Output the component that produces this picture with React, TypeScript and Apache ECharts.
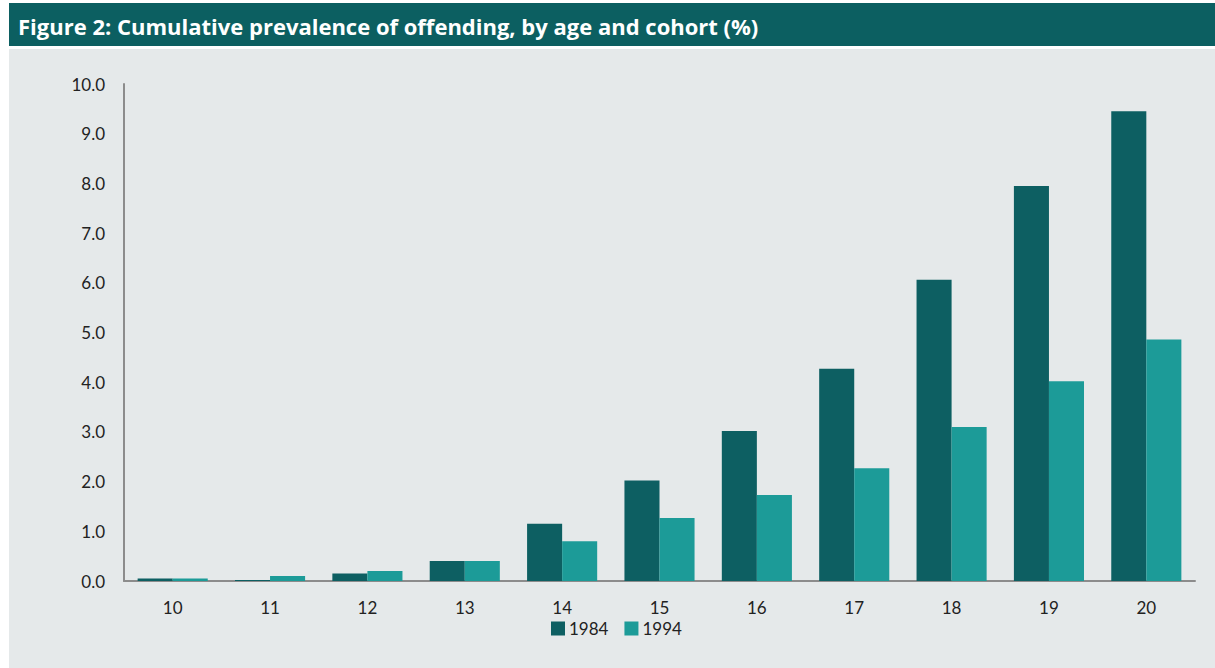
import React, { useEffect, useRef } from "react";
import * as echarts from "echarts";

const title = "Figure 2: Cumulative prevalence of offending, by age and cohort (%)";
const ages = ["10", "11", "12", "13", "14", "15", "16", "17", "18", "19", "20"];
const cohort1984 = [0.05, 0.02, 0.15, 0.4, 1.15, 2.02, 3.02, 4.27, 6.06, 7.95, 9.45];
const cohort1994 = [0.05, 0.1, 0.2, 0.4, 0.8, 1.27, 1.73, 2.27, 3.1, 4.02, 4.86];
const seriesNames = ["1984", "1994"];

const DARK = "#0D5F62";
const LIGHT = "#1C9B98";
const FONT = "Lato, 'Open Sans', sans-serif";

export default function App() {
  const ref = useRef<HTMLDivElement>(null);
  useEffect(() => {
    if (!ref.current) return;
    const chart = echarts.init(ref.current, null, { renderer: "svg" });
    chart.setOption({
      animation: false,
      backgroundColor: "#ffffff",
      graphic: [
        { type: "rect", z: -10, shape: { x: 9, y: 3, width: 1206, height: 43 }, style: { fill: "#0C5F61" } },
        { type: "rect", z: -10, shape: { x: 9, y: 49, width: 1206, height: 619 }, style: { fill: "#E5E9EA" } },
        {
          type: "text",
          x: 18,
          y: 26,
          style: {
            text: title,
            fill: "#ffffff",
            font: `bold 22px 'Open Sans', sans-serif`,
            textVerticalAlign: "middle",
          },
        },
      ],
      grid: { left: 124, right: 20, top: 84, bottom: 87 },
      legend: {
        data: seriesNames,
        bottom: 26,
        left: 546,
        itemWidth: 14,
        itemHeight: 14,
        itemGap: 16,
        icon: "rect",
        textStyle: { fontFamily: FONT, fontSize: 17, color: "#222", padding: [0, 0, 0, -1] },
      },
      xAxis: {
        type: "category",
        data: ages,
        axisLine: { lineStyle: { color: "#8C8C8C", width: 2 } },
        axisTick: { show: false },
        axisLabel: { fontFamily: FONT, fontSize: 17, color: "#222", margin: 18 },
      },
      yAxis: {
        type: "value",
        min: 0,
        max: 10,
        interval: 1,
        axisLine: { show: true, lineStyle: { color: "#8C8C8C", width: 2 } },
        axisTick: { show: false },
        splitLine: { show: false },
        axisLabel: {
          fontFamily: FONT,
          fontSize: 17,
          color: "#222",
          margin: 19,
          formatter: (v: number) => v.toFixed(1),
        },
      },
      series: [
        {
          name: seriesNames[0],
          type: "bar",
          data: cohort1984,
          itemStyle: { color: DARK },
          barGap: "0%",
          barCategoryGap: "28%",
        },
        {
          name: seriesNames[1],
          type: "bar",
          data: cohort1994,
          itemStyle: { color: LIGHT },
          barGap: "0%",
          barCategoryGap: "28%",
        },
      ],
    });
    return () => chart.dispose();
  }, []);
  return (
    <div
      ref={ref}
      style={{ position: "fixed", left: 0, top: 0, width: 1215, height: 668 }}
    />
  );
}
